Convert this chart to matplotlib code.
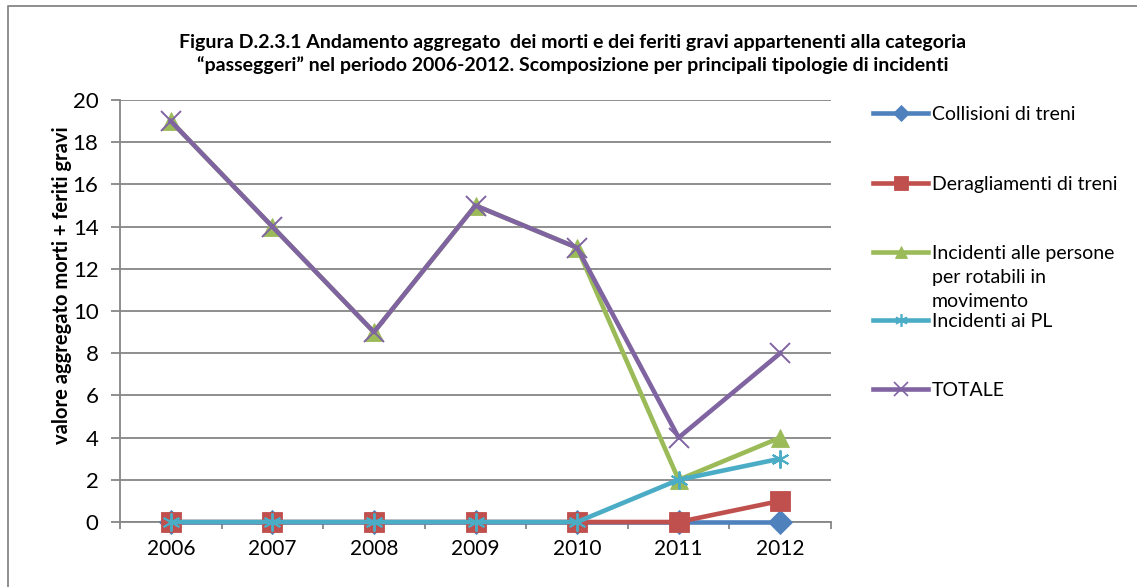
import matplotlib
matplotlib.use("Agg")
import matplotlib.pyplot as plt
from matplotlib.lines import Line2D

plt.rcParams["font.family"] = ["Lato", "DejaVu Sans"]

years = ["2006", "2007", "2008", "2009", "2010", "2011", "2012"]
collisioni = [0, 0, 0, 0, 0, 0, 0]
deragliamenti = [0, 0, 0, 0, 0, 0, 1]
incidenti_persone = [19, 14, 9, 15, 13, 2, 4]
incidenti_pl = [0, 0, 0, 0, 0, 2, 3]
totale = [19, 14, 9, 15, 13, 4, 8]

series_labels = [
    "Collisioni di treni",
    "Deragliamenti di treni",
    "Incidenti alle persone\nper rotabili in\nmovimento",
    "Incidenti ai PL",
    "TOTALE",
]
series_values = [collisioni, deragliamenti, incidenti_persone, incidenti_pl, totale]

colors = ["#4F81BD", "#C0504D", "#9BBB59", "#4BACC6", "#8064A2"]
markers = ["D", "s", "^", (6, 2, 0), "x"]
msizes = [12, 14, 13, 13, 14]
grey = "#868686"

fig = plt.figure(figsize=(11.37, 5.87), dpi=100)
ax = fig.add_axes([120 / 1137, 1 - 522 / 587, (831 - 120) / 1137, (522 - 100) / 587])

x = list(range(len(years)))
for vals, c, m, ms in zip(series_values, colors, markers, msizes):
    thin = m in ("x", (6, 2, 0))
    ax.plot(x, vals, color=c, linewidth=3.3, marker=m, markersize=ms,
            markeredgewidth=1.4 if thin else 0.6, markeredgecolor=c,
            markerfacecolor=c, clip_on=False, zorder=3)

ax.set_xlim(-0.5, len(years) - 0.5)
ax.set_ylim(0, 20)
ax.set_yticks(range(0, 21, 2))
ax.set_xticks(x)
ax.set_xticklabels(years)
ax.set_xticks([i - 0.5 for i in range(len(years) + 1)], minor=True)
ax.tick_params(axis="x", which="major", length=0, pad=12, labelsize=15)
ax.tick_params(axis="x", which="minor", length=5, width=1.3, color=grey, direction="out")
ax.tick_params(axis="y", length=6.5, width=1.3, color=grey, pad=9, labelsize=16)

ax.grid(axis="y", color=grey, linewidth=1.3)
ax.set_axisbelow(True)
for s in ["top", "right"]:
    ax.spines[s].set_visible(False)
for s in ["left", "bottom"]:
    ax.spines[s].set_color(grey)
    ax.spines[s].set_linewidth(1.3)

ax.set_ylabel("valore aggregato morti + feriti gravi", fontsize=14.5,
              fontweight="bold", va="center")
ax.yaxis.set_label_coords((62 - 120) / 711, (522 - 285) / 422)

fig.text(573 / 1137, 1 - 54 / 587,
         "Figura D.2.3.1 Andamento aggregato  dei morti e dei feriti gravi appartenenti alla categoria\n"
         "\u201cpasseggeri\u201d nel periodo 2006-2012. Scomposizione per principali tipologie di incidenti",
         ha="center", va="center", fontsize=14, fontweight="bold", linespacing=1.38)

# legend drawn by hand to mimic the Excel layout
legend_y = [113, 183, 252, 320, 389]
for lab, c, m, ms, ly in zip(series_labels, colors, markers, msizes, legend_y):
    yf = 1 - ly / 587
    fig.add_artist(Line2D([873 / 1137, 928 / 1137], [yf, yf], color=c, linewidth=3.3,
                          transform=fig.transFigure))
    fig.add_artist(Line2D([900.5 / 1137], [yf], color=c, marker=m, markersize=ms * 0.7,
                          markeredgewidth=1.2 if m in ("x", (6, 2, 0)) else 0.6,
                          markerfacecolor=c, markeredgecolor=c, transform=fig.transFigure))
    fig.text(932 / 1137, yf + 7 / 587, lab, ha="left", va="top", fontsize=14,
             linespacing=1.5)

# chart frame
fig.add_artist(Line2D([8 / 1137, 8 / 1137, 1.0], [0.0, 1 - 6 / 587, 1 - 6 / 587],
                      color=grey, linewidth=1.3, transform=fig.transFigure))

fig.savefig("out.png", dpi=100)
